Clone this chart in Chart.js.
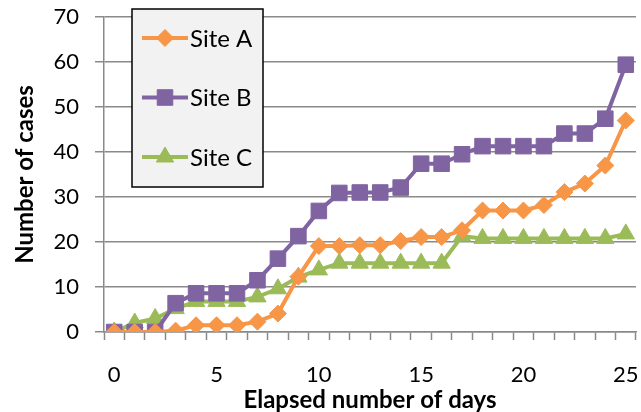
<!DOCTYPE html>
<html>
<head>
<meta charset="utf-8">
<script src="https://cdn.jsdelivr.net/npm/chart.js@4/dist/chart.umd.min.js"></script>
<style>
  html, body { margin: 0; padding: 0; background: #ffffff; }
  #wrap { width: 641px; height: 412px; position: relative; }
</style>
</head>
<body>
<div id="wrap"><canvas id="casesChart" width="641" height="412"></canvas></div>
<script>
var days = ["0","1","2","3","4","5","6","7","8","9","10","11","12","13","14","15","16","17","18","19","20","21","22","23","24","25"];
var siteA = [0, 0, 0, 0.3, 1.5, 1.5, 1.5, 2.3, 4.1, 12.3, 19.1, 19.1, 19.3, 19.3, 20.2, 21.1, 21.1, 22.6, 27, 27, 27, 28.2, 31.1, 33, 37, 47];
var siteB = [0, 0, 0, 6.4, 8.6, 8.6, 8.6, 11.5, 16.3, 21.3, 26.9, 30.9, 31, 31, 32.1, 37.4, 37.4, 39.5, 41.3, 41.3, 41.3, 41.3, 44.1, 44.1, 47.4, 59.4];
var siteC = [0, 2, 3, 5.2, 6.8, 6.8, 6.8, 7.8, 9.6, 12.2, 13.8, 15.3, 15.3, 15.3, 15.3, 15.3, 15.3, 21.3, 20.8, 20.8, 20.8, 20.8, 20.8, 20.8, 20.8, 21.8];
var xTickLabels = ["0","5","10","15","20","25"];

var gridColor = "#8a8a8a";
var fontName = "Lato, 'Open Sans', sans-serif";

// legend drawn as a boxed list inside the plot, like the spreadsheet version
var boxLegend = {
  id: "boxLegend",
  afterDraw: function (chart) {
    var ctx = chart.ctx;
    var x0 = 132, y0 = 9, w = 131, h = 178;
    ctx.save();
    ctx.fillStyle = "#f2f2f2";
    ctx.fillRect(x0, y0, w, h);
    ctx.lineWidth = 1.5;
    ctx.strokeStyle = "#000000";
    ctx.strokeRect(x0, y0, w, h);
    chart.data.datasets.forEach(function (ds, i) {
      var cy = y0 + 29 + i * 59.5;
      ctx.strokeStyle = ds.borderColor;
      ctx.lineWidth = ds.borderWidth;
      ctx.beginPath();
      ctx.moveTo(x0 + 10, cy);
      ctx.lineTo(x0 + 56, cy);
      ctx.stroke();
      ctx.fillStyle = ds.pointBackgroundColor;
      ctx.strokeStyle = ds.pointBorderColor;
      ctx.lineWidth = 1;
      Chart.helpers.drawPoint(ctx, {
        pointStyle: ds.pointStyle,
        radius: ds.pointRadius,
        borderWidth: 1,
        rotation: 0
      }, x0 + 33, cy);
      ctx.fillStyle = "#000000";
      ctx.font = "24px " + fontName;
      ctx.textBaseline = "middle";
      ctx.textAlign = "left";
      ctx.fillText(ds.label, x0 + 58, cy + 1);
    });
    ctx.restore();
  }
};

function makeSet(label, data, color, style, radius) {
  return {
    label: label,
    data: data,
    borderColor: color,
    backgroundColor: color,
    pointBackgroundColor: color,
    pointBorderColor: color,
    borderWidth: 4,
    pointStyle: style,
    pointRadius: radius,
    pointBorderWidth: 1,
    tension: 0,
    fill: false
  };
}

var ctx = document.getElementById("casesChart").getContext("2d");
var casesChart = new Chart(ctx, {
  type: "line",
  data: {
    labels: days,
    datasets: [
      makeSet("Site A", siteA, "#F79646", "rectRot", 8.5),
      makeSet("Site B", siteB, "#8064A2", "rect", 11),
      makeSet("Site C", siteC, "#9BBB59", "triangle", 10)
    ]
  },
  options: {
    responsive: false,
    animation: false,
    devicePixelRatio: 1,
    layout: { autoPadding: false, padding: { top: 17, right: 5, left: 0, bottom: 0 } },
    plugins: {
      legend: { display: false },
      tooltip: { enabled: false }
    },
    scales: {
      x: {
        type: "category",
        offset: true,
        afterFit: function (scale) {
          scale.height = 80;
          scale.paddingLeft = 0;
          scale.paddingRight = 0;
        },
        grid: {
          offset: true,
          drawOnChartArea: false,
          drawTicks: true,
          tickLength: 8,
          tickColor: gridColor,
          tickWidth: 1.5
        },
        border: { color: gridColor, width: 1.5 },
        ticks: {
          autoSkip: false,
          maxRotation: 0,
          padding: 22,
          color: "#000000",
          font: { family: fontName, size: 22 },
          callback: function (val, idx) {
            var lab = this.getLabelForValue(val);
            return xTickLabels.indexOf(lab) >= 0 ? lab : "";
          }
        },
        title: {
          display: true,
          text: "Elapsed number of days",
          color: "#000000",
          font: { family: fontName, size: 24, weight: "bold", lineHeight: 1 },
          padding: { top: 0, bottom: 0 }
        }
      },
      y: {
        min: 0,
        max: 70,
        afterFit: function (scale) {
          scale.width = 104;
          scale.paddingTop = 0;
          scale.paddingBottom = 0;
        },
        ticks: {
          stepSize: 10,
          padding: 16,
          color: "#000000",
          font: { family: fontName, size: 22 }
        },
        grid: {
          color: gridColor,
          lineWidth: 1.5,
          tickLength: 9,
          tickColor: gridColor
        },
        border: { color: gridColor, width: 1.5 },
        title: {
          display: true,
          text: "Number of cases",
          color: "#000000",
          font: { family: fontName, size: 24, weight: "bold" },
          padding: { top: 11, bottom: 0 }
        }
      }
    }
  },
  plugins: [boxLegend]
});
</script>
</body>
</html>
